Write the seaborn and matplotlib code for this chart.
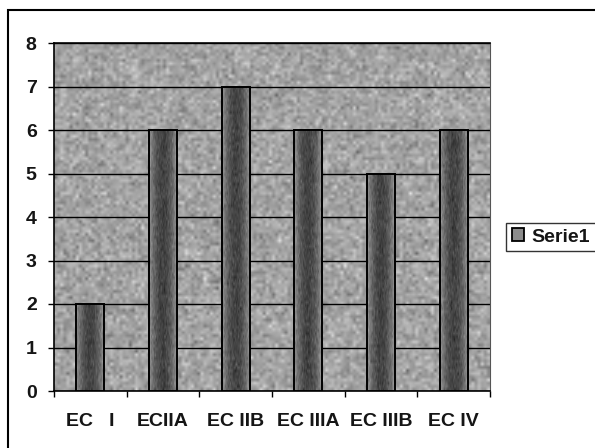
import numpy as np
import pandas as pd
import matplotlib
matplotlib.use("Agg")
import matplotlib.pyplot as plt
from matplotlib.patches import Rectangle
import seaborn as sns

# Data
categories = ["EC   I", "ECIIA", "EC IIB", "EC IIIA", "EC IIIB", "EC IV"]
values = [2, 6, 7, 6, 5, 6]
series_name = "Serie1"
y_ticks = [0, 1, 2, 3, 4, 5, 6, 7, 8]

df = pd.DataFrame({"category": categories, "value": values})

sns.set_theme(style="white")
plt.rcParams["font.family"] = ["Liberation Sans", "DejaVu Sans"]

W, H = 595, 448
fig = plt.figure(figsize=(W / 100, H / 100), dpi=100)
ax = fig.add_axes([54 / W, 1 - 391 / H, (490 - 54) / W, (391 - 43) / H])

sns.barplot(data=df, x="category", y="value", ax=ax, width=0.385,
            color="#6a6a6a", edgecolor="black", linewidth=1.4, zorder=3)

# grainy texture fill for the plot area
rng = np.random.default_rng(7)
tex = 0.64 + 0.07 * rng.standard_normal((110, 140))
ax.imshow(tex, cmap="gray", vmin=0, vmax=1, extent=[-0.5, 5.5, 0, 8],
          aspect="auto", zorder=0.1, interpolation="bilinear")

# horizontal shading on bars: dark centre, lighter sides
xs = np.linspace(-1, 1, 40)
grad = 0.58 - 0.32 * (1 - xs ** 2)
for p in ax.patches:
    if not isinstance(p, Rectangle) or p.get_height() <= 0:
        continue
    x0, w, h = p.get_x(), p.get_width(), p.get_height()
    noise = 0.05 * rng.standard_normal((int(h * 14), 40))
    img = np.clip(grad[None, :] + noise, 0, 1)
    im = ax.imshow(img, cmap="gray", vmin=0, vmax=1, extent=[x0, x0 + w, 0, h],
                   aspect="auto", zorder=3.5, interpolation="bilinear")
    im.set_clip_path(p)
    p.set_facecolor("none")
    p.set_zorder(4)

ax.set_xlim(-0.5, len(categories) - 0.5)
ax.set_ylim(0, 8)

ax.set_yticks(y_ticks)
ax.yaxis.grid(True, color="black", linewidth=1.0, zorder=1)
ax.set_axisbelow(True)
ax.set_xlabel("")
ax.set_ylabel("")

ax.tick_params(axis="y", which="major", direction="out", length=4.5, width=1,
               color="black", labelsize=14, pad=8, left=True)
ax.tick_params(axis="x", which="major", length=0, labelsize=14, pad=15.5)
ax.set_xticks(np.arange(-0.5, len(categories), 1.0), minor=True)
ax.tick_params(axis="x", which="minor", direction="out", length=4, width=1,
               color="black", bottom=True)
for lab in ax.get_xticklabels() + ax.get_yticklabels():
    lab.set_fontweight("bold")
    lab.set_color("#151515")

for side, sp in ax.spines.items():
    sp.set_visible(True)
    sp.set_color("black")
    sp.set_linewidth(1.2)
ax.spines["right"].set_color("#555555")
ax.spines["right"].set_linewidth(0.8)

# legend
handle = Rectangle((0, 0), 1, 1, facecolor="#8c8c8c", edgecolor="black", linewidth=1.3)
leg = fig.legend([handle], [series_name], loc="center left",
                 bbox_to_anchor=(506 / W, 1 - 237 / H), frameon=True,
                 fancybox=False, handlelength=0.6, handleheight=0.6,
                 handletextpad=0.4, borderpad=0.3, borderaxespad=0,
                 prop={"size": 14, "weight": "bold"})
leg.get_frame().set_edgecolor("black")
leg.get_frame().set_linewidth(1.0)
leg.get_frame().set_facecolor("white")
for t in leg.get_texts():
    t.set_color("#151515")

# chart frame
fig.patches.append(Rectangle((8 / W, -0.05), 1.1, 1 - 10 / H + 0.05,
                             transform=fig.transFigure, fill=False,
                             edgecolor="black", linewidth=1.5))

fig.savefig("out.png", dpi=100, facecolor="white")
